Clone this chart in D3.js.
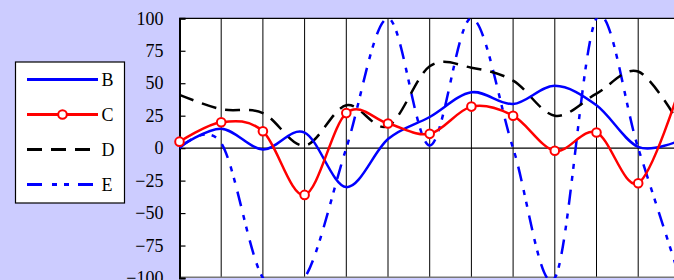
<!DOCTYPE html>
<html>
<head>
<meta charset="utf-8">
<script src="https://cdn.jsdelivr.net/npm/d3@7"></script>
<style>
  html, body { margin: 0; padding: 0; background: #ccccff; overflow: hidden; }
  svg { display: block; }
  text { font-family: "Liberation Serif", "Times New Roman", serif; }
</style>
</head>
<body>
<svg id="chart" width="674" height="280"></svg>
<script>
// ---- data ----
const categories = [0, 1, 2, 3, 4, 5, 6, 7, 8, 9, 10, 11, 12];
const seriesB = [1, 15, -1, 12, -30, 7, 24, 43, 34, 48, 33, 1, 6];
const seriesC = [5, 20, 13, -36, 27, 19, 11, 32, 25, -2, 12, -27, 47];
const seriesD = [41, 30, 27, 2, 33, 17, 63, 62, 52, 25, 42, 59, 18];
const seriesE = [0, 4, -100, -100, 0, 100, 2, 100, 0, -100, 100, 0, -100];
const yTicks = [-100, -75, -50, -25, 0, 25, 50, 75, 100];
const legendLabels = ["B", "C", "D", "E"];

// ---- layout ----
const W = 674, H = 280;
const plotLeft = 179.5, plotTop = 18.3, plotBottom = 278;
const step = 41.7;
const svg = d3.select("#chart");

const x = d3.scaleLinear().domain([0, 12]).range([plotLeft, plotLeft + step * 12]);
const y = d3.scaleLinear().domain([-100, 100]).range([plotBottom, plotTop]);

// plot background
svg.append("rect")
  .attr("x", plotLeft).attr("y", plotTop)
  .attr("width", x(12.6) - plotLeft).attr("height", plotBottom - plotTop)
  .attr("fill", "#ffffff");

// clip
svg.append("clipPath").attr("id", "clip")
  .append("rect")
  .attr("x", plotLeft).attr("y", plotTop)
  .attr("width", x(12.6) - plotLeft).attr("height", plotBottom - plotTop);

// vertical gridlines
svg.append("g").selectAll("line")
  .data(categories.filter(d => d > 0))
  .join("line")
  .attr("x1", d => x(d)).attr("x2", d => x(d))
  .attr("y1", plotTop).attr("y2", plotBottom)
  .attr("stroke", "#000").attr("stroke-width", 1);

// top border, bottom border
svg.append("line").attr("x1", plotLeft).attr("x2", W + 20)
  .attr("y1", plotTop).attr("y2", plotTop)
  .attr("stroke", "#000").attr("stroke-width", 1.2);
svg.append("line").attr("x1", plotLeft).attr("x2", W + 20)
  .attr("y1", plotBottom - 0.8).attr("y2", plotBottom - 0.8)
  .attr("stroke", "#777").attr("stroke-width", 1.5);

// zero line
svg.append("line").attr("x1", plotLeft).attr("x2", W + 20)
  .attr("y1", y(0)).attr("y2", y(0))
  .attr("stroke", "#000").attr("stroke-width", 1.2);

// y axis
const yAxis = d3.axisLeft(y).tickValues(yTicks).tickSize(-6).tickPadding(16)
  .tickFormat(d3.format("d"));
const gy = svg.append("g").attr("transform", `translate(${plotLeft},0)`).call(yAxis);
gy.select(".domain").attr("stroke", "#000").attr("stroke-width", 2);
gy.selectAll(".tick line").attr("stroke", "#000").attr("stroke-width", 1.2);
gy.selectAll(".tick text")
  .attr("font-family", '"Liberation Serif", "Times New Roman", serif')
  .attr("font-size", 18).attr("fill", "#000");

// series
const line = d3.line()
  .x((d, i) => x(categories[i]))
  .y(d => y(d))
  .curve(d3.curveCardinal.tension(0));

const series = [
  { name: "B", values: seriesB, color: "#0000ff", dash: null, marker: false },
  { name: "C", values: seriesC, color: "#ff0000", dash: null, marker: true },
  { name: "D", values: seriesD, color: "#000000", dash: "15,9", marker: false },
  { name: "E", values: seriesE, color: "#0000ff", dash: "15,9,5,7,5,9", marker: false }
];

const gSeries = svg.append("g").attr("clip-path", "url(#clip)");
// draw order: E, D, B, C
[series[3], series[2], series[0], series[1]].forEach(s => {
  gSeries.append("path")
    .datum(s.values)
    .attr("d", line)
    .attr("fill", "none")
    .attr("stroke", s.color)
    .attr("stroke-width", 2.5)
    .attr("stroke-dasharray", s.dash);
});
// markers for C
svg.append("g").selectAll("circle")
  .data(seriesC)
  .join("circle")
  .attr("cx", (d, i) => x(categories[i]))
  .attr("cy", d => y(d))
  .attr("r", 4.3)
  .attr("fill", "#fff")
  .attr("stroke", "#ff0000")
  .attr("stroke-width", 2);

// legend
const lg = svg.append("g");
lg.append("rect").attr("x", 15.5).attr("y", 62).attr("width", 109).attr("height", 141)
  .attr("fill", "#fff").attr("stroke", "#000").attr("stroke-width", 1.2);
const legendY = d3.scalePoint().domain(legendLabels).range([79.5, 184.5]);
legendLabels.forEach((lab, i) => {
  const s = series[i];
  const yy = legendY(lab);
  lg.append("line").attr("x1", 27).attr("x2", 98).attr("y1", yy).attr("y2", yy)
    .attr("stroke", s.color).attr("stroke-width", 3)
    .attr("stroke-dasharray", s.dash ? (i === 2 ? "15,9" : "15,10,5,7,5,9") : null);
  if (s.marker) {
    lg.append("circle").attr("cx", 62.5).attr("cy", yy).attr("r", 4.3)
      .attr("fill", "#fff").attr("stroke", s.color).attr("stroke-width", 2);
  }
  lg.append("text").attr("x", 101.5).attr("y", yy).attr("dy", "0.35em")
    .attr("font-size", 18).attr("fill", "#000").text(lab);
});
</script>
</body>
</html>
